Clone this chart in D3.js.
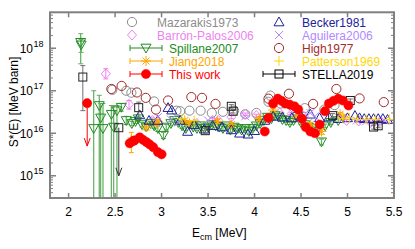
<!DOCTYPE html>
<html><head><meta charset="utf-8">
<script src="https://cdn.jsdelivr.net/npm/d3@7"></script>
<style>body{margin:0;background:#fff}svg{display:block;font-family:"Liberation Sans",Arial,sans-serif}</style>
</head><body><svg id="c" width="415" height="249"></svg>
<script>
// ---------- data ----------
const xTicks=[2,2.5,3,3.5,4,4.5,5,5.5];
const xTickLabels=["2","2.5","3","3.5","4","4.5","5","5.5"];
const yTicks=[1e15,1e16,1e17,1e18];
const yTickExp=["15","16","17","18"];

// [E, S]
const mazarakis=[[2.47,1.05e17],[2.62,1.0e17],[2.675,9.0e16],[2.92,5.6e16],[3.16,3.4e16],[3.2,3.3e16],[3.3,3.4e16],[3.42,3.4e16],[3.54,3.0e16],[3.66,3.2e16],[3.78,3.4e16],[3.9,2.8e16],[4.02,3.0e16],[4.15,5.5e16],[4.17,7.7e16],[4.28,5.0e16],[4.54,3.9e16],[4.75,3.6e16],[4.86,4.6e16]];
// [E, S, lo, hi]
const barron=[[2.40,2.5e17,1.9e17,3.3e17],[2.65,4.8e16,3.7e16,5.9e16],[2.9,2.0e16,1.7e16,2.3e16],[3.38,1.7e16,1.5e16,1.9e16],[3.55,2.0e16,1.8e16,2.2e16],[3.61,2.0e16,1.8e16,2.2e16],[3.75,2.4e16,2.2e16,2.6e16],[3.9,2.8e16,2.6e16,3.0e16],[4.02,2.6e16,2.4e16,2.8e16],[4.27,3.0e16,2.8e16,3.2e16],[4.4,2.9e16,2.7e16,3.1e16],[4.53,2.5e16,2.3e16,2.7e16],[4.99,2.0e16,1.9e16,2.1e16],[5.12,1.95e16,1.85e16,2.05e16],[5.25,1.8e16,1.7e16,1.9e16],[5.35,1.9e16,1.8e16,2.0e16]];
const spillane=[[2.13,1.38e18,4.3e17,2.2e18],[2.135,1.2e18,8e17,1.6e18],[2.27,1.3e16,1e13,1.0e17],[2.33,4.5e16,1e13,7.8e16],[2.345,2.3e16,1e13,5.0e16],[2.37,1.3e16,1e13,5.0e16],[2.46,2.8e16,1e13,4.5e16],[2.485,1.4e16,1e13,4.5e16],[2.52,3.4e16,1e13,4.5e16],[2.567,4.1e16,3.3e16,5.0e16],[2.62,2.0e16,1.6e16,2.5e16],[2.68,1.7e16,1.5e16,1.9e16],[2.72,1.9e16,1.7e16,2.1e16],[2.75,2.2e16,2.0e16,2.5e16],[2.79,1.6e16,1.4e16,1.8e16],[2.836,1.4e16,1.2e16,1.6e16],[2.88,1.7e16,1.5e16,1.9e16],[2.92,1.5e16,1.3e16,1.7e16],[2.96,1.3e16,1.1e16,1.5e16],[3.02,9e15,7.5e15,1.05e16],[3.05,1.4e16,1.2e16,1.6e16],[3.1,1.7e16,1.5e16,1.9e16],[3.14,2.0e16,1.8e16,2.2e16],[3.18,1.8e16,1.6e16,2.0e16],[3.22,1.5e16,1.3e16,1.7e16],[3.26,1.3e16,1.15e16,1.45e16],[3.3,1.6e16,1.4e16,1.8e16],[3.34,1.4e16,1.25e16,1.55e16],[3.38,1.3e16,1.15e16,1.45e16],[3.42,1.5e16,1.35e16,1.65e16],[3.46,1.3e16,1.15e16,1.45e16],[3.5,1.4e16,1.25e16,1.55e16],[3.54,1.6e16,1.45e16,1.75e16],[3.58,1.5e16,1.35e16,1.65e16],[3.62,1.4e16,1.25e16,1.55e16],[3.66,1.3e16,1.15e16,1.45e16],[3.7,1.5e16,1.35e16,1.65e16],[3.74,1.2e16,1.05e16,1.35e16],[3.78,1.4e16,1.25e16,1.55e16],[3.82,1.3e16,1.15e16,1.45e16],[3.86,1.2e16,1.05e16,1.35e16],[3.9,1.3e16,1.15e16,1.45e16],[3.94,1.1e16,9.5e15,1.25e16],[3.98,1.3e16,1.15e16,1.45e16],[4.02,1.5e16,1.35e16,1.65e16],[4.06,1.7e16,1.5e16,1.9e16],[4.1,2.0e16,1.8e16,2.2e16],[4.14,2.4e16,2.2e16,2.6e16],[4.18,2.2e16,2.0e16,2.4e16],[4.22,2.6e16,2.4e16,2.8e16],[4.26,2.4e16,2.2e16,2.6e16],[4.3,2.1e16,1.9e16,2.3e16],[4.34,2.0e16,1.8e16,2.2e16],[4.38,1.8e16,1.6e16,2.0e16],[4.42,2.0e16,1.8e16,2.2e16],[4.46,2.5e16,2.3e16,2.7e16],[4.5,1.8e16,1.6e16,2.0e16],[4.54,1.6e16,1.45e16,1.75e16],[4.58,1.4e16,1.25e16,1.55e16],[4.62,1.3e16,1.15e16,1.45e16],[4.66,1.1e16,9.5e15,1.25e16],[4.72,6.3e15,5.3e15,7.3e15],[4.76,1.5e16,1.35e16,1.65e16],[4.82,1.8e16,1.6e16,2.0e16],[4.9,2.0e16,1.8e16,2.2e16]];
const jiang=[[2.675,6.7e15,3.5e15,1.05e16],[2.837,1.4e16,1.2e16,1.6e16],[2.944,1.7e16,1.5e16,1.9e16],[2.96,1.9e16,1.7e16,2.1e16],[3.25,2.0e16,1.8e16,2.2e16],[3.3,1.7e16,1.5e16,1.9e16],[3.6,1.9e16,1.7e16,2.1e16],[3.75,1.6e16,1.4e16,1.8e16],[4.05,2.2e16,2.0e16,2.4e16],[4.2,3.5e16,3.2e16,3.8e16],[4.45,2.5e16,2.3e16,2.7e16],[4.6,1.6e16,1.4e16,1.8e16],[4.72,1.1e16,9.5e15,1.25e16],[4.92,2.8e16,2.5e16,3.1e16],[4.95,2.4e16,2.2e16,2.6e16]];
const thisWork=[[2.657,5.8e15,5.2e15,6.4e15],[2.69,6.5e15,5.9e15,7.1e15],[2.71,6.8e15,6.1e15,7.5e15],[2.765,8.0e15,7.2e15,8.8e15],[2.80,7.0e15,6.3e15,7.7e15],[2.837,6.2e15,5.6e15,6.8e15],[2.87,5.5e15,5.0e15,6.0e15],[2.91,4.7e15,4.2e15,5.2e15],[2.96,3.6e15,3.2e15,4.0e15],[3.0,3.2e15,2.8e15,3.6e15],[4.11,1.1e16,1.0e16,1.2e16],[4.15,2.3e16,2.1e16,2.5e16],[4.2,5.0e16,4.6e16,5.4e16],[4.25,6.5e16,6.0e16,7.0e16],[4.29,5.8e16,5.3e16,6.3e16],[4.33,5.0e16,4.6e16,5.4e16],[4.38,4.7e16,4.3e16,5.1e16],[4.43,4.3e16,3.9e16,4.7e16],[4.47,3.6e16,3.3e16,3.9e16],[4.51,2.2e16,2.0e16,2.4e16],[4.55,1.4e16,1.3e16,1.5e16],[4.6,1.1e16,1.0e16,1.2e16],[4.65,1.0e16,9.2e15,1.08e16],[4.7,1.6e16,1.5e16,1.7e16],[4.757,3.3e16,3.0e16,3.6e16],[4.8,5.0e16,4.6e16,5.4e16],[4.85,5.8e16,5.3e16,6.3e16],[4.9,6.5e16,6.0e16,7.0e16],[4.95,5.9e16,5.4e16,6.4e16],[5.01,4.5e16,4.1e16,4.9e16]];
// upper limits [E, S, arrow tip]
const thisWorkLimit=[[2.20,5.1e16,5.0e15]];
const becker=[[2.765,2.7e16],[2.865,2.0e16],[2.96,2.0e16],[3.07,4.0e16],[3.11,3.5e16],[3.2,2.0e16],[3.28,1.1e16],[3.35,1.6e16],[3.46,1.25e16],[3.55,1.5e16],[3.65,1.4e16],[3.75,1.2e16],[3.84,1.0e16],[3.93,9.5e15],[4.0,1.15e16],[4.11,2.0e16],[4.2,2.5e16],[4.3,2.4e16],[4.4,2.3e16],[4.5,2.5e16],[4.6,2.8e16],[4.7,2.3e16],[4.8,2.4e16],[4.9,2.2e16],[5.0,2.3e16],[5.08,2.6e16],[5.13,2.3e16],[5.18,2.2e16],[5.23,2.2e16],[5.28,2.2e16],[5.33,2.2e16],[5.38,2.2e16],[5.43,2.1e16]];
const aguilera=[[2.96,2.4e16],[3.1,2.1e16],[3.18,1.8e16],[3.5,2.0e16],[3.9,2.5e16],[4.4,3.2e16],[4.6,3.0e16],[4.65,2.5e16],[4.95,2.2e16],[5.1,2.0e16],[5.2,1.9e16],[5.3,1.8e16],[5.4,2.0e16]];
const high=[[2.46,1.1e17],[2.57,1.3e17],[2.735,9.1e16],[2.83,6.8e16],[2.94,3.6e16],[3.07,5.9e16],[3.32,7.1e16],[3.435,6.8e16],[3.58,4.9e16],[4.15,6.5e16],[4.37,8.5e16],[4.63,4.9e16],[4.88,1.1e17],[5.13,6.6e16],[5.39,5.4e16]];
const patterson=[[3.22,2.2e16],[3.35,2.0e16],[4.95,2.2e16],[5.02,2.3e16],[5.1,2.1e16],[5.2,2.1e16],[5.3,2.1e16],[5.45,2.1e16]];
const stella=[[2.153,2.1e17,3.4e16,3.9e17],[2.754,4.0e16,2.3e16,5.4e16],[3.47,1.15e16,1.0e16,1.3e16],[3.75,4.3e16,3.9e16,4.7e16],[3.77,3.3e16,3.0e16,3.6e16],[4.84,2.6e16,2.3e16,2.9e16],[5.03,5.9e16,5.4e16,6.4e16],[5.28,1.4e16,1.25e16,1.55e16],[5.33,1.5e16,1.35e16,1.65e16]];
const stellaLimit=[[2.54,1.35e16,1.0e15]];

// ---------- chart ----------
const svg=d3.select("#c");
const L=50,R=394,T=12.3,B=198;
const x=d3.scaleLinear().domain([1.8,5.5]).range([L,R]);
const y=d3.scaleLog().domain([3e14,7e18]).range([B,T]);

const C={maz:"#8c8c8c",bar:"#ee82ee",spi:"#228b22",jia:"#ffa500",tw:"#ff0000",bec:"#22229a",agu:"#b388ff",hig:"#a52a2a",pat:"#ffd700",ste:"#000000"};

svg.append("defs").append("clipPath").attr("id","clip").append("rect").attr("x",L).attr("y",T).attr("width",R-L).attr("height",B-T);
const plot=svg.append("g").attr("clip-path","url(#clip)");

function marker(g,type,cx,cy,col){
  const s=col;
  switch(type){
    case "circle": g.append("circle").attr("cx",cx).attr("cy",cy).attr("r",4.6).attr("fill","none").attr("stroke",s).attr("stroke-width",1);break;
    case "fcircle": g.append("circle").attr("cx",cx).attr("cy",cy).attr("r",4.6).attr("fill",s).attr("stroke",s).attr("stroke-width",0.5);break;
    case "tri": g.append("path").attr("d",`M${cx},${cy-5}L${cx+5},${cy+3.8}L${cx-5},${cy+3.8}Z`).attr("fill","none").attr("stroke",s).attr("stroke-width",1);break;
    case "dtri": g.append("path").attr("d",`M${cx},${cy+5}L${cx+5},${cy-3.8}L${cx-5},${cy-3.8}Z`).attr("fill","none").attr("stroke",s).attr("stroke-width",1);break;
    case "diamond": g.append("path").attr("d",`M${cx},${cy-5}L${cx+4.5},${cy}L${cx},${cy+5}L${cx-4.5},${cy}Z`).attr("fill","none").attr("stroke",s).attr("stroke-width",1);break;
    case "square": g.append("rect").attr("x",cx-4).attr("y",cy-4).attr("width",8).attr("height",8).attr("fill","none").attr("stroke",s).attr("stroke-width",1);break;
    case "cross": g.append("path").attr("d",`M${cx-4},${cy-4}L${cx+4},${cy+4}M${cx-4},${cy+4}L${cx+4},${cy-4}`).attr("stroke",s).attr("stroke-width",1);break;
    case "plus": g.append("path").attr("d",`M${cx-5},${cy}L${cx+5},${cy}M${cx},${cy-5}L${cx},${cy+5}`).attr("stroke",s).attr("stroke-width",1);break;
    case "star": g.append("path").attr("d",`M${cx-5},${cy}L${cx+5},${cy}M${cx},${cy-5}L${cx},${cy+5}M${cx-3.5},${cy-3.5}L${cx+3.5},${cy+3.5}M${cx-3.5},${cy+3.5}L${cx+3.5},${cy-3.5}`).attr("stroke",s).attr("stroke-width",1);break;
  }
}
function errbars(g,data,col,w){
  data.forEach(d=>{
    const px=x(d[0]);
    g.append("line").attr("x1",px).attr("x2",px).attr("y1",y(d[2])).attr("y2",y(d[3])).attr("stroke",col).attr("stroke-width",w||1);
    [d[2],d[3]].forEach(v=>g.append("line").attr("x1",px-2.5).attr("x2",px+2.5).attr("y1",y(v)).attr("y2",y(v)).attr("stroke",col).attr("stroke-width",1));
  });
}
function arrows(g,data,col){
  data.forEach(d=>{
    const px=x(d[0]),y0=y(d[1]),y1=y(d[2]);
    g.append("line").attr("x1",px).attr("x2",px).attr("y1",y0).attr("y2",y1).attr("stroke",col).attr("stroke-width",1);
    g.append("path").attr("d",`M${px-3},${y1-8}L${px},${y1}L${px+3},${y1-8}`).attr("fill","none").attr("stroke",col).attr("stroke-width",1);
  });
}
function pts(g,data,type,col){data.forEach(d=>marker(g,type,x(d[0]),y(d[1]),col));}

// draw series
pts(plot,mazarakis,"circle",C.maz);
errbars(plot,barron,C.bar);pts(plot,barron,"diamond",C.bar);
errbars(plot,spillane,"#5fae5f",1.2);pts(plot,spillane,"dtri",C.spi);
errbars(plot,jiang,C.jia);pts(plot,jiang,"star",C.jia);
pts(plot,becker,"tri",C.bec);
pts(plot,aguilera,"cross",C.agu);
pts(plot,high,"circle",C.hig);
pts(plot,patterson,"plus",C.pat);
errbars(plot,stella,"#707070");arrows(plot,stellaLimit,"#333");pts(plot,stella.concat(stellaLimit),"square","#222");
errbars(plot,thisWork,C.tw);arrows(plot,thisWorkLimit,C.tw);pts(plot,thisWork.concat(thisWorkLimit),"fcircle",C.tw);

// frame and ticks
const ax=svg.append("g").attr("stroke","#808080");
xTicks.forEach(t=>{
  ax.append("line").attr("x1",x(t)).attr("x2",x(t)).attr("y1",B).attr("y2",B-5).attr("stroke-width",1.5);
  ax.append("line").attr("x1",x(t)).attr("x2",x(t)).attr("y1",T).attr("y2",T+5).attr("stroke-width",1.5);
});
const minor=[];
for(let e=14;e<=18;e++)for(let m=2;m<=9;m++){const v=m*Math.pow(10,e);if(v>=3e14&&v<=7e18)minor.push(v);}
minor.forEach(v=>{
  ax.append("line").attr("x1",L).attr("x2",L+3).attr("y1",y(v)).attr("y2",y(v)).attr("stroke-width",1);
  ax.append("line").attr("x1",R).attr("x2",R-3).attr("y1",y(v)).attr("y2",y(v)).attr("stroke-width",1);
});
yTicks.forEach(v=>{
  ax.append("line").attr("x1",L).attr("x2",L+6).attr("y1",y(v)).attr("y2",y(v)).attr("stroke-width",1.5);
  ax.append("line").attr("x1",R).attr("x2",R-6).attr("y1",y(v)).attr("y2",y(v)).attr("stroke-width",1.5);
});
ax.append("rect").attr("x",L).attr("y",T).attr("width",R-L).attr("height",B-T).attr("fill","none").attr("stroke-width",2);

// tick labels
const lab=svg.append("g").attr("fill","#000").attr("font-size",12);
xTicks.forEach((t,i)=>lab.append("text").attr("x",x(t)).attr("y",216).attr("text-anchor","middle").text(xTickLabels[i]));
yTicks.forEach((v,i)=>{
  lab.append("text").attr("x",33).attr("y",y(v)+4.5).attr("text-anchor","end").text("10");
  lab.append("text").attr("x",33.5).attr("y",y(v)-1.5).attr("font-size",9).text(yTickExp[i]);
});
// axis titles
const xl=lab.append("text").attr("x",192).attr("y",237);
xl.append("tspan").text("E");
xl.append("tspan").attr("font-size",9).attr("dy",3).text("cm");
xl.append("tspan").attr("dy",-3).text(" [MeV]");
lab.append("text").attr("transform","translate(18,102) rotate(-90)").attr("text-anchor","middle").text("S*(E) [MeV barn]");

// legend
const leg=svg.append("g").attr("font-size",12);
const legend1=[
  {name:"Mazarakis1973",type:"circle",col:C.maz,bar:false},
  {name:"Barrón-Palos2006",type:"diamond",col:C.bar,bar:false},
  {name:"Spillane2007",type:"dtri",col:C.spi,bar:true},
  {name:"Jiang2018",type:"star",col:C.jia,bar:true},
  {name:"This work",type:"fcircle",col:C.tw,bar:true}];
const legend2=[
  {name:"Becker1981",type:"tri",col:C.bec,bar:false},
  {name:"Aguilera2006",type:"cross",col:C.agu,bar:false},
  {name:"High1977",type:"circle",col:C.hig,bar:false},
  {name:"Patterson1969",type:"plus",col:C.pat,bar:false},
  {name:"STELLA2019",type:"square",col:C.ste,bar:true}];
legend1.forEach((e,i)=>{
  const cy=22+i*13;
  if(e.bar){
    leg.append("line").attr("x1",130).attr("x2",162).attr("y1",cy).attr("y2",cy).attr("stroke",e.col);
    [130,162].forEach(px=>leg.append("line").attr("x1",px).attr("x2",px).attr("y1",cy-3).attr("y2",cy+3).attr("stroke",e.col));
    marker(leg,e.type,146,cy,e.col);
    leg.append("text").attr("x",169).attr("y",cy+4.5).attr("fill",e.col).text(e.name);
  }else{
    marker(leg,e.type,132,cy,e.col);
    leg.append("text").attr("x",157).attr("y",cy+4.5).attr("fill",e.col).text(e.name);
  }
});
legend2.forEach((e,i)=>{
  const cy=22+i*13;
  if(e.bar){
    leg.append("line").attr("x1",263).attr("x2",295).attr("y1",cy).attr("y2",cy).attr("stroke",e.col);
    [263,295].forEach(px=>leg.append("line").attr("x1",px).attr("x2",px).attr("y1",cy-3).attr("y2",cy+3).attr("stroke",e.col));
  }
  marker(leg,e.type,279,cy,e.col);
  leg.append("text").attr("x",302).attr("y",cy+4.5).attr("fill",e.col).text(e.name);
});
</script></body></html>
